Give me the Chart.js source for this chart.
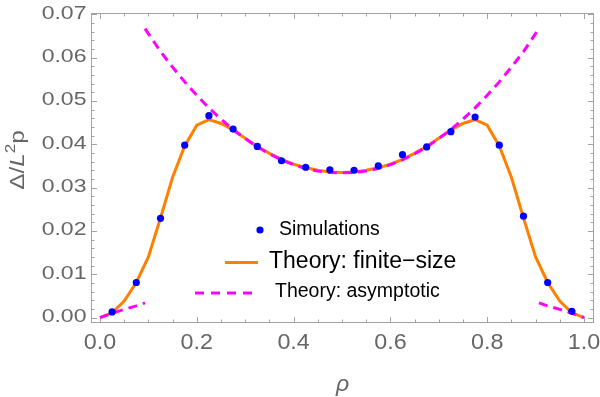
<!DOCTYPE html>
<html>
<head>
<meta charset="utf-8">
<script src="https://cdn.jsdelivr.net/npm/chart.js@4.4.1/dist/chart.umd.min.js"></script>
<style>
  body { margin: 0; background: #fff; }
  canvas { display: block; }
</style>
</head>
<body>
<canvas id="grafico" width="600" height="397"></canvas>
<script>
// dados
var rhoSim = [0.025, 0.075, 0.125, 0.175, 0.225, 0.275, 0.325, 0.375, 0.425, 0.475,
              0.525, 0.575, 0.625, 0.675, 0.725, 0.775, 0.825, 0.875, 0.925, 0.975];
var simValues = [0.0013, 0.0081, 0.0229, 0.0398, 0.0466, 0.0435, 0.0395, 0.0362, 0.0347, 0.0341,
                 0.0340, 0.0350, 0.0376, 0.0394, 0.0429, 0.0463, 0.0398, 0.0234, 0.0081, 0.00145];

var rhoFinite = [0, 0.025, 0.05, 0.075, 0.1, 0.125, 0.15, 0.175, 0.2, 0.225, 0.25, 0.275, 0.3,
                 0.325, 0.35, 0.375, 0.4, 0.425, 0.45, 0.475, 0.5, 0.525, 0.55, 0.575, 0.6,
                 0.625, 0.65, 0.675, 0.7, 0.725, 0.75, 0.775, 0.8, 0.825, 0.85, 0.875, 0.9,
                 0.925, 0.95, 0.975, 1];
var finiteValues = [0, 0.0011, 0.0038, 0.0081, 0.0140, 0.0230, 0.0324, 0.0396, 0.0444, 0.0457,
                    0.0448, 0.0433, 0.0414, 0.0395, 0.0379, 0.0365, 0.0354, 0.0346, 0.0340, 0.0336,
                    0.0335, 0.0336, 0.0340, 0.0346, 0.0354, 0.0365, 0.0379, 0.0395, 0.0414, 0.0433,
                    0.0448, 0.0457, 0.0444, 0.0396, 0.0324, 0.0230, 0.0140, 0.0081, 0.0038, 0.0011, 0];

// assintótico: três pedaços
var rhoAsymLeft = [0, 0.025, 0.05, 0.075, 0.093];
var asymLeftValues = [0, 0.0010, 0.0019, 0.0027, 0.0034];
var rhoAsymMid = [0.093, 0.125, 0.15, 0.175, 0.2, 0.225, 0.25, 0.275, 0.3, 0.325, 0.35, 0.375,
                  0.4, 0.425, 0.45, 0.475, 0.5, 0.525, 0.55, 0.575, 0.6, 0.625, 0.65, 0.675,
                  0.7, 0.725, 0.75, 0.775, 0.8, 0.825, 0.85, 0.875, 0.907];
var asymMidValues = [0.0667, 0.0614, 0.0578, 0.0544, 0.0513, 0.0484, 0.0458, 0.0434, 0.0413,
                     0.0394, 0.0378, 0.0364, 0.0353, 0.0344, 0.0338, 0.0335, 0.0334, 0.0335,
                     0.0338, 0.0344, 0.0353, 0.0364, 0.0378, 0.0394, 0.0413, 0.0434, 0.0458,
                     0.0484, 0.0513, 0.0544, 0.0578, 0.0614, 0.0667];
var rhoAsymRight = [0.907, 0.925, 0.95, 0.975, 1];
var asymRightValues = [0.0034, 0.0027, 0.0019, 0.0010, 0];

var xTicks = [0, 0.2, 0.4, 0.6, 0.8, 1.0];
var yTicks = [0, 0.01, 0.02, 0.03, 0.04, 0.05, 0.06, 0.07];

function pares(xs, ys) {
    return xs.map(function (x, i) { return { x: x, y: ys[i] }; });
}

var corFrame = '#a2a2a2';
var corTexto = '#666666';

// moldura, marcas, rótulos e legenda
var molduraPlugin = {
    id: 'moldura',
    beforeDatasetsDraw: function (chart) {
        var ctx = chart.ctx;
        var a = chart.chartArea;
        var sx = chart.scales.x, sy = chart.scales.y;
        ctx.save();
        ctx.strokeStyle = corFrame;
        ctx.lineWidth = 1;
        ctx.strokeRect(Math.round(a.left) + 0.5, Math.round(a.top) + 0.5,
                       Math.round(a.right - a.left) - 1, Math.round(a.bottom - a.top) - 1);

        ctx.beginPath();
        // x: maiores a cada 0.2, menores a cada 0.05
        for (var i = 0; i <= 20; i++) {
            var v = i * 0.05;
            var len = (i % 4 === 0) ? 6 : 3.5;
            var px = Math.round(sx.getPixelForValue(v)) + 0.5;
            ctx.moveTo(px, a.bottom); ctx.lineTo(px, a.bottom - len);
            ctx.moveTo(px, a.top); ctx.lineTo(px, a.top + len);
        }
        // y: maiores a cada 0.01, menores a cada 0.002
        for (var j = 0; j <= 35; j++) {
            var w = j * 0.002;
            var leny = (j % 5 === 0) ? 6 : 3.5;
            var py = Math.round(sy.getPixelForValue(w)) + 0.5;
            ctx.moveTo(a.left, py); ctx.lineTo(a.left + leny, py);
            ctx.moveTo(a.right, py); ctx.lineTo(a.right - leny, py);
        }
        ctx.stroke();

        // rótulos
        ctx.fillStyle = corTexto;
        ctx.font = '18px "Liberation Sans", Arial, sans-serif';
        ctx.textAlign = 'right';
        ctx.textBaseline = 'middle';
        yTicks.forEach(function (t) {
            ctx.save();
            ctx.translate(a.left - 4.5, sy.getPixelForValue(t) - 0.5);
            ctx.scale(1.28, 1);
            ctx.fillText(t.toFixed(2), 0, 0);
            ctx.restore();
        });
        ctx.font = '22px "Liberation Sans", Arial, sans-serif';
        ctx.textAlign = 'center';
        xTicks.forEach(function (t) {
            ctx.save();
            ctx.translate(sx.getPixelForValue(t), 343);
            ctx.scale(1.06, 1);
            ctx.fillText(t.toFixed(1), 0, 0);
            ctx.restore();
        });

        // títulos dos eixos
        ctx.font = 'italic 23px "Liberation Sans", Arial, sans-serif';
        ctx.fillText('\u03C1', (a.left + a.right) / 2, 385);

        ctx.translate(23.5, 160);
        ctx.rotate(-Math.PI / 2);
        ctx.scale(1.22, 1);
        ctx.textAlign = 'left';
        ctx.textBaseline = 'alphabetic';
        var partes = [
            { t: '\u0394/', f: '20px "Liberation Sans", Arial, sans-serif', dy: 0 },
            { t: 'L', f: 'italic 20px "Liberation Sans", Arial, sans-serif', dy: 0 },
            { t: '2', f: '14px "Liberation Sans", Arial, sans-serif', dy: -9 },
            { t: 'p', f: '20px "Liberation Sans", Arial, sans-serif', dy: 0 }
        ];
        var total = 0;
        partes.forEach(function (p) { ctx.font = p.f; total += ctx.measureText(p.t).width; });
        var cx = -total / 2;
        partes.forEach(function (p) {
            ctx.font = p.f;
            ctx.fillText(p.t, cx, p.dy);
            cx += ctx.measureText(p.t).width;
        });
        ctx.restore();
    },
    afterDraw: function (chart) {
        var ctx = chart.ctx;
        ctx.save();
        ctx.fillStyle = '#0000ff';
        ctx.beginPath();
        ctx.arc(260, 230, 3.6, 0, Math.PI * 2);
        ctx.fill();

        ctx.strokeStyle = '#ff7f00';
        ctx.lineWidth = 3;
        ctx.beginPath();
        ctx.moveTo(225, 262.5); ctx.lineTo(258, 262.5);
        ctx.stroke();

        ctx.strokeStyle = '#ff00ff';
        ctx.setLineDash([9, 7]);
        ctx.beginPath();
        ctx.moveTo(195, 293); ctx.lineTo(257, 293);
        ctx.stroke();
        ctx.setLineDash([]);

        ctx.fillStyle = '#000';
        ctx.textAlign = 'left';
        ctx.textBaseline = 'middle';
        ctx.font = '19.5px "Liberation Sans", Arial, sans-serif';
        ctx.fillText('Simulations', 279, 230);
        ctx.font = '23px "Liberation Sans", Arial, sans-serif';
        ctx.fillText('Theory: finite\u2212size', 269, 262);
        ctx.font = '19.5px "Liberation Sans", Arial, sans-serif';
        ctx.fillText('Theory: asymptotic', 275, 292);
        ctx.restore();
    }
};

var linhaAssint = {
    showLine: true,
    borderColor: '#ff00ff',
    borderWidth: 3,
    borderDash: [9, 6],
    pointRadius: 0,
    order: 1
};

var ctx1 = document.getElementById('grafico').getContext('2d');
var grafico = new Chart(ctx1, {
    type: 'scatter',
    data: {
        datasets: [
            {
                label: 'Simulations',
                data: pares(rhoSim, simValues),
                backgroundColor: '#0000ff',
                borderWidth: 0,
                pointRadius: 3.6,
                order: 0
            },
            Object.assign({ label: 'Theory: asymptotic', data: pares(rhoAsymLeft, asymLeftValues) }, linhaAssint),
            Object.assign({ label: 'asym mid', data: pares(rhoAsymMid, asymMidValues) }, linhaAssint),
            Object.assign({ label: 'asym right', data: pares(rhoAsymRight, asymRightValues) }, linhaAssint),
            {
                label: 'Theory: finite-size',
                data: pares(rhoFinite, finiteValues),
                showLine: true,
                borderColor: '#ff7f00',
                borderWidth: 3,
                pointRadius: 0,
                order: 2
            }
        ]
    },
    options: {
        responsive: false,
        animation: false,
        layout: { padding: { left: 91, right: 6, top: 13, bottom: 74 } },
        plugins: {
            legend: { display: false },
            tooltip: { enabled: false }
        },
        scales: {
            x: { type: 'linear', display: false, min: -0.0186, max: 1.0207 },
            y: { type: 'linear', display: false, min: -0.00125, max: 0.0703 }
        }
    },
    plugins: [molduraPlugin]
});
</script>
</body>
</html>
